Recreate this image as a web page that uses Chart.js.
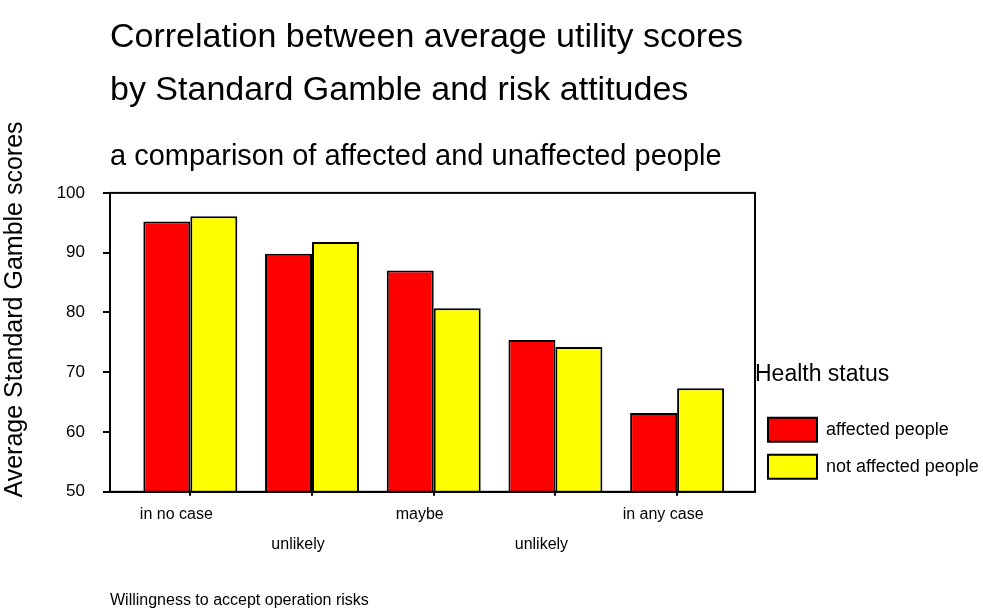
<!DOCTYPE html>
<html>
<head>
<meta charset="utf-8">
<title>Utility scores and risk attitudes</title>
<script src="https://cdn.jsdelivr.net/npm/chart.js@4.4.1/dist/chart.umd.min.js"></script>
<style>
  html, body { margin: 0; padding: 0; background: #fff; }
  #box { width: 983px; height: 613px; }
</style>
</head>
<body>
<div id="box"><canvas id="chart"></canvas></div>
<script>
// Data
const categories = [["in no case"], ["", "unlikely"], ["maybe"], ["", "unlikely"], ["in any case"]];
const affected = [95.2, 89.8, 87.0, 75.4, 63.2];
const notAffected = [96.1, 91.8, 80.7, 74.2, 67.3];
const yTicks = [50, 60, 70, 80, 90, 100];
const yTitle = "Average Standard Gamble scores";

const FONT = "'Liberation Sans', Arial, sans-serif";

const toPoints = (values) => values.map((v, i) => ({ x: i, y: v }));

// box around the plot area
const framePlugin = {
  id: "frame",
  afterDatasetsDraw(chart) {
    const { ctx, chartArea } = chart;
    ctx.save();
    ctx.strokeStyle = "#000";
    ctx.lineWidth = 2;
    ctx.strokeRect(chartArea.left, chartArea.top, chartArea.right - chartArea.left, chartArea.bottom - chartArea.top);
    ctx.restore();
  },
};

// y title is centred on the whole picture, not on the plot area
const yTitlePlugin = {
  id: "yTitle",
  afterDraw(chart) {
    const ctx = chart.ctx;
    ctx.save();
    ctx.translate(15, chart.height / 2 + 3);
    ctx.rotate(-Math.PI / 2);
    ctx.font = "25px " + FONT;
    ctx.fillStyle = "#000";
    ctx.textAlign = "center";
    ctx.textBaseline = "middle";
    ctx.fillText(yTitle, 0, 0);
    ctx.restore();
  },
};

const chartCtx = document.querySelector("#chart").getContext("2d");

new Chart(chartCtx, {
  type: "bar",
  data: {
    datasets: [
      {
        label: "affected people",
        data: toPoints(affected),
        backgroundColor: "#ff0000",
        borderColor: "#000",
        borderWidth: 2,
      },
      {
        label: "not affected people",
        data: toPoints(notAffected),
        backgroundColor: "#ffff00",
        borderColor: "#000",
        borderWidth: 2,
      },
    ],
  },
  options: {
    responsive: true,
    maintainAspectRatio: false,
    animation: false,
    categoryPercentage: 0.772,
    barPercentage: 1,
    layout: { padding: { top: 0, right: 0, bottom: 0, left: 0 } },
    plugins: {
      tooltip: { enabled: false },
      title: {
        display: true,
        text: ["Correlation between average utility scores", "by Standard Gamble and risk attitudes"],
        align: "start",
        fullSize: false,
        color: "#000",
        font: { family: FONT, size: 34, weight: "normal", lineHeight: 1.56 },
        padding: { top: 11, bottom: 0 },
      },
      subtitle: {
        display: true,
        text: "a comparison of affected and unaffected people",
        align: "start",
        fullSize: false,
        color: "#000",
        font: { family: FONT, size: 29, weight: "normal", lineHeight: 1.2 },
        padding: { top: 23, bottom: 18 },
      },
      legend: {
        position: "right",
        align: "end",
        fullSize: false,
        maxWidth: 228,
        title: {
          display: true,
          text: "Health status",
          position: "start",
          color: "#000",
          font: { family: FONT, size: 23, weight: "normal", lineHeight: 1.2 },
          padding: { top: 0, bottom: 14 },
        },
        labels: {
          boxWidth: 49,
          boxHeight: 24,
          padding: 13,
          color: "#000",
          font: { family: FONT, size: 18 },
        },
      },
    },
    scales: {
      x: {
        type: "linear",
        offset: false,
        min: -0.66,
        max: 4.64,
        afterBuildTicks: (scale) => {
          scale.ticks = categories.map((c, i) => ({ value: i }));
        },
        border: { display: true, color: "#000", width: 2 },
        grid: { offset: false, drawOnChartArea: false, drawTicks: true, tickLength: 4, color: "#000", lineWidth: 2 },
        ticks: {
          autoSkip: false,
          maxRotation: 0,
          padding: 4,
          labelOffset: -14,
          color: "#000",
          font: { family: FONT, size: 16, lineHeight: 1.875 },
          callback: (value) => categories[value],
        },
        title: {
          display: true,
          text: "Willingness to accept operation risks",
          align: "start",
          color: "#000",
          font: { family: FONT, size: 16 },
          padding: { top: 27, bottom: 3 },
        },
      },
      y: {
        min: 50,
        max: 100,
        afterBuildTicks: (scale) => {
          scale.ticks = yTicks.map((v) => ({ value: v }));
        },
        afterFit: (scale) => {
          scale.width = 110;
        },
        border: { display: true, color: "#000", width: 2 },
        grid: { drawOnChartArea: false, drawTicks: true, tickLength: 7, color: "#000", lineWidth: 2 },
        ticks: {
          padding: 18,
          color: "#000",
          font: { family: FONT, size: 17 },
        },
        title: { display: false },
      },
    },
  },
  plugins: [framePlugin, yTitlePlugin],
});
</script>
</body>
</html>
